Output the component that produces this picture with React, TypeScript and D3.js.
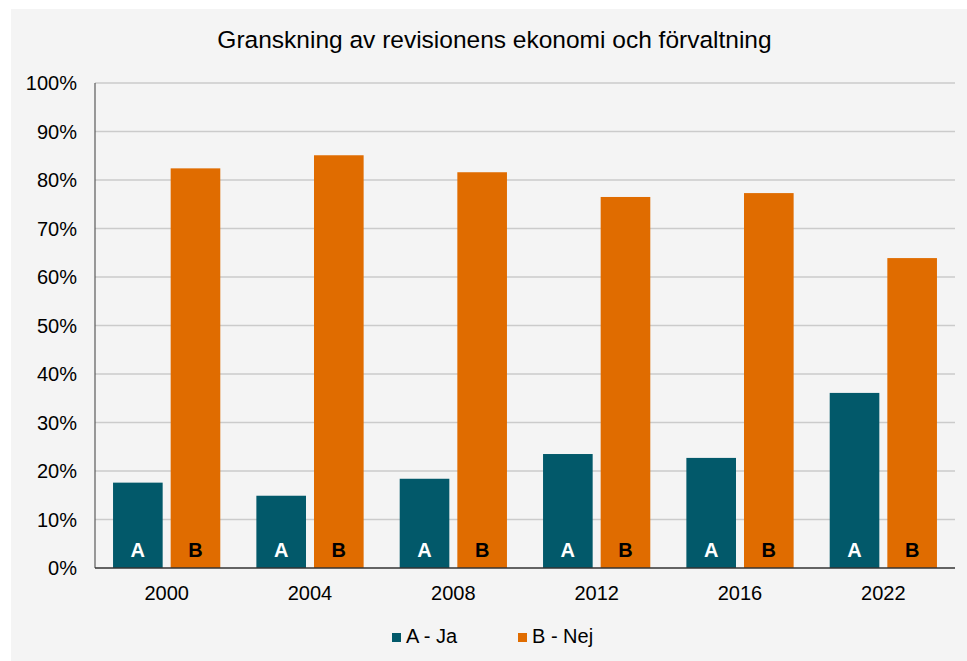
import * as d3 from "d3";

const years = ["2000", "2004", "2008", "2012", "2016", "2022"];
const seriesKeys = ["A", "B"];
const seriesNames = ["A - Ja", "B - Nej"];
const jaValues = [17.6, 14.9, 18.4, 23.5, 22.7, 36.1];
const nejValues = [82.4, 85.1, 81.6, 76.5, 77.3, 63.9];
const yTicks = [0, 10, 20, 30, 40, 50, 60, 70, 80, 90, 100];
const title = "Granskning av revisionens ekonomi och förvaltning";

const colors = ["#02596a", "#e06c00"];
const labelColors = ["#ffffff", "#000000"];

const W = 967;
const H = 661;
const margin = { top: 83, right: 12, bottom: 93, left: 95 };
const font = "Liberation Sans, Arial, sans-serif";

const App = () => {
  const x = d3
    .scaleBand()
    .domain(years)
    .range([margin.left, W - margin.right]);

  // two bars inside each year
  const xSub = d3
    .scaleBand()
    .domain(seriesKeys)
    .range([0, x.bandwidth()])
    .paddingInner(0.139)
    .paddingOuter(0.313);

  const y = d3
    .scaleLinear()
    .domain([0, 100])
    .range([H - margin.bottom, margin.top]);

  const values = [jaValues, nejValues];

  return (
    <svg
      width={W}
      height={H}
      style={{ position: "absolute", left: 0, top: 0, fontFamily: font }}
    >
      <rect x={0} y={0} width={W} height={H} fill="#ffffff" />
      <rect x={11} y={9} width={W - 11} height={H - 9} fill="#f4f4f4" />

      <text
        x={494.5}
        y={48}
        textAnchor="middle"
        fontSize={24.5}
        fill="#000"
      >
        {title}
      </text>

      {/* gridlines + y labels */}
      {yTicks.map((t) => (
        <g key={t}>
          {t > 0 && (
            <line
              x1={margin.left}
              x2={W - margin.right}
              y1={y(t)}
              y2={y(t)}
              stroke="#cbcbcb"
              strokeWidth={1.3}
            />
          )}
          <text
            x={77}
            y={y(t)}
            dy="0.35em"
            textAnchor="end"
            fontSize={20}
            fill="#000"
          >
            {t + "%"}
          </text>
        </g>
      ))}

      {/* bars */}
      {seriesKeys.map((k, si) =>
        years.map((yr, i) => {
          const bx = (x(yr) as number) + (xSub(k) as number);
          const v = values[si][i];
          return (
            <g key={k + yr}>
              <rect
                x={bx}
                y={y(v)}
                width={xSub.bandwidth()}
                height={y(0) - y(v)}
                fill={colors[si]}
              />
              <text
                x={bx + xSub.bandwidth() / 2}
                y={y(0) - 11}
                textAnchor="middle"
                fontSize={20}
                fontWeight="bold"
                fill={labelColors[si]}
              >
                {k}
              </text>
            </g>
          );
        })
      )}

      {/* axes */}
      <line
        x1={margin.left}
        x2={margin.left}
        y1={y(100)}
        y2={y(0)}
        stroke="#595959"
        strokeWidth={1.2}
      />
      <line
        x1={margin.left}
        x2={W - margin.right}
        y1={y(0)}
        y2={y(0)}
        stroke="#333333"
        strokeWidth={1.5}
      />
      {years.map((yr) => (
        <text
          key={yr}
          x={(x(yr) as number) + x.bandwidth() / 2}
          y={600}
          textAnchor="middle"
          fontSize={20}
          fill="#000"
        >
          {yr}
        </text>
      ))}

      {/* legend */}
      {seriesNames.map((name, i) => (
        <g key={name} transform={`translate(${392 + i * 126},633)`}>
          <rect x={0} y={0} width={9} height={9} fill={colors[i]} />
          <text x={14} y={10} fontSize={20} fill="#000">
            {name}
          </text>
        </g>
      ))}
    </svg>
  );
};

export default App;
